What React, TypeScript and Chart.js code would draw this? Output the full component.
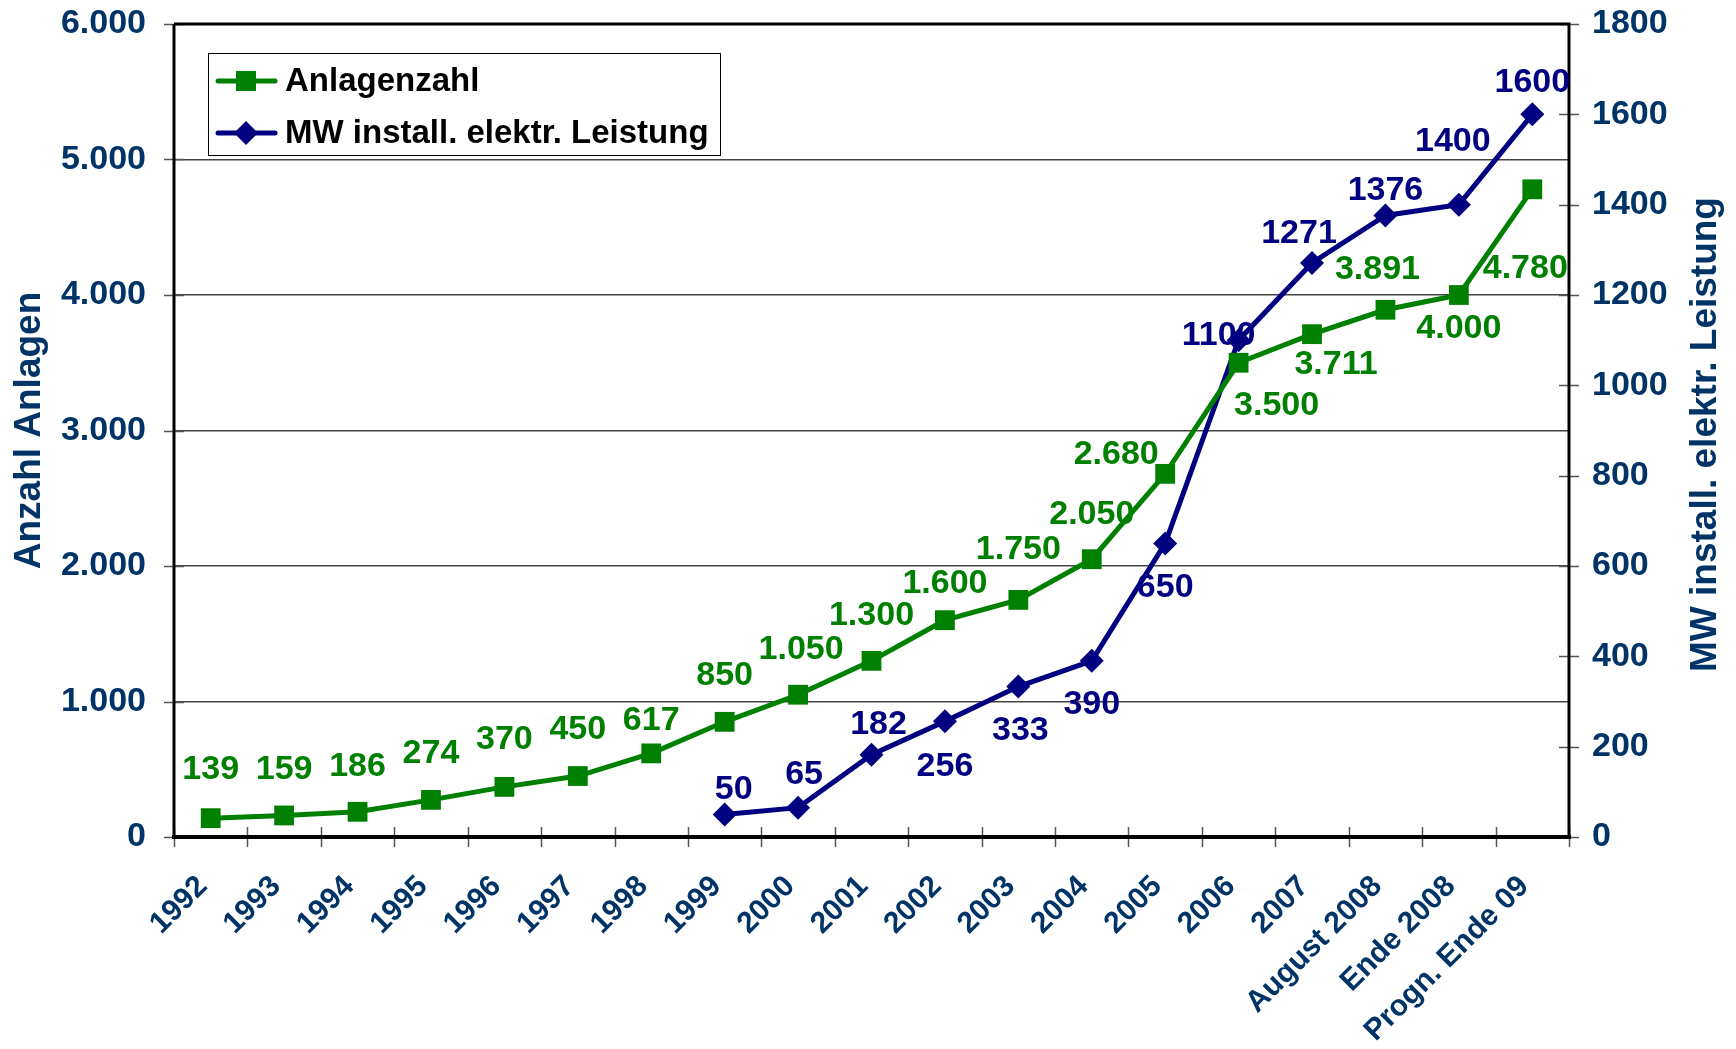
import React, { useEffect, useRef } from 'react';
import { Chart, registerables } from 'chart.js';

Chart.register(...registerables);

const categories = [
  '1992', '1993', '1994', '1995', '1996', '1997', '1998', '1999', '2000', '2001',
  '2002', '2003', '2004', '2005', '2006', '2007', 'August 2008', 'Ende 2008', 'Progn. Ende 09',
];
const anlagenzahl = [139, 159, 186, 274, 370, 450, 617, 850, 1050, 1300, 1600, 1750, 2050, 2680, 3500, 3711, 3891, 4000, 4780];
const mwLeistung = [null, null, null, null, null, null, null, 50, 65, 182, 256, 333, 390, 650, 1100, 1271, 1376, 1400, 1600];

const leftAxisTitle = 'Anzahl Anlagen';
const rightAxisTitle = 'MW install. elektr. Leistung';
const seriesNames = ['Anlagenzahl', 'MW install. elektr. Leistung'];

// label placement offsets (pixels from point centre), styling only
const greenLabelOffsets = [
  [0, -49], [0, -46], [0, -45], [0, -46], [0, -47], [0, -46], [0, -33], [0, -46], [3, -45], [0, -45],
  [0, -37], [0, -50], [0, -45], [-49, -19], [38, 43], [24, 30], [-8, -40], [0, 34], [-7, 79],
];
const blueLabelOffsets = [
  null, null, null, null, null, null, null,
  [9, -25], [6, -33], [7, -30], [0, 45], [2, 44], [0, 44], [0, 44], [-20, -5], [-13, -29], [0, -25], [-6, -63], [0, -32],
];

const FONT = '"Liberation Sans", Arial, Helvetica, sans-serif';
const AXIS_COLOR = '#003366';
const GREEN = '#008000';
const BLUE = '#000080';

const fmtDE = (v: number) => String(v).replace(/\B(?=(\d{3})+(?!\d))/g, '.');

const decorPlugin = {
  id: 'decor',
  afterDatasetsDraw(chart: any) {
    const { ctx, chartArea } = chart;
    const { left, right, top, bottom } = chartArea;
    const y = chart.scales.y;
    const y1 = chart.scales.y1;
    const x = chart.scales.x;
    ctx.save();
    // tick marks
    ctx.strokeStyle = '#555555';
    ctx.lineWidth = 1.5;
    ctx.beginPath();
    y.ticks.forEach((t: any) => {
      const py = Math.round(y.getPixelForValue(t.value)) + 0.5;
      ctx.moveTo(left - 10, py);
      ctx.lineTo(left + 10, py);
    });
    y1.ticks.forEach((t: any) => {
      const py = Math.round(y1.getPixelForValue(t.value)) + 0.5;
      ctx.moveTo(right - 10, py);
      ctx.lineTo(right + 10, py);
    });
    for (let i = 0; i <= categories.length; i++) {
      const px = Math.round(x.getPixelForValue(i - 0.5)) + 0.5;
      ctx.moveTo(px, bottom - 10);
      ctx.lineTo(px, bottom + 10);
    }
    ctx.stroke();
    // plot border
    ctx.strokeStyle = '#000000';
    ctx.lineWidth = 3;
    ctx.beginPath();
    ctx.moveTo(left, top);
    ctx.lineTo(right, top);
    ctx.lineTo(right, bottom);
    ctx.moveTo(left, top);
    ctx.lineTo(left, bottom);
    ctx.stroke();
    ctx.lineWidth = 4;
    ctx.beginPath();
    ctx.moveTo(left - 2, bottom);
    ctx.lineTo(right + 2, bottom);
    ctx.stroke();
    ctx.restore();
  },
  afterDraw(chart: any) {
    const { ctx, chartArea } = chart;
    ctx.save();
    // data labels
    ctx.font = `bold 34px ${FONT}`;
    ctx.textAlign = 'center';
    ctx.textBaseline = 'middle';
    const m0 = chart.getDatasetMeta(0);
    const m1 = chart.getDatasetMeta(1);
    ctx.fillStyle = GREEN;
    anlagenzahl.forEach((v, i) => {
      const p = m0.data[i];
      const o = greenLabelOffsets[i];
      ctx.fillText(fmtDE(v), p.x + o[0], p.y + o[1]);
    });
    ctx.fillStyle = BLUE;
    mwLeistung.forEach((v, i) => {
      if (v == null) return;
      const p = m1.data[i];
      const o = blueLabelOffsets[i] as number[];
      ctx.fillText(String(v), p.x + o[0], p.y + o[1]);
    });
    // axis titles
    ctx.fillStyle = AXIS_COLOR;
    ctx.font = `bold 37px ${FONT}`;
    const cy = (chartArea.top + chartArea.bottom) / 2;
    ctx.save();
    ctx.translate(30, cy);
    ctx.rotate(-Math.PI / 2);
    ctx.fillText(leftAxisTitle, 0, 0);
    ctx.restore();
    ctx.save();
    ctx.translate(1706, cy + 4);
    ctx.rotate(-Math.PI / 2);
    ctx.fillText(rightAxisTitle, 0, 0);
    ctx.restore();
    // legend
    const bx = 208, by = 53, bw = 512, bh = 102;
    ctx.fillStyle = '#ffffff';
    ctx.fillRect(bx, by, bw, bh);
    ctx.strokeStyle = '#000000';
    ctx.lineWidth = 1;
    ctx.strokeRect(bx + 0.5, by + 0.5, bw, bh);
    const rows = [
      { y: 81, color: GREEN, style: 'rect', r: 10, name: seriesNames[0] },
      { y: 133, color: BLUE, style: 'rectRot', r: 12, name: seriesNames[1] },
    ];
    rows.forEach((row) => {
      ctx.strokeStyle = row.color;
      ctx.lineWidth = 5;
      ctx.lineCap = 'round';
      ctx.beginPath();
      ctx.moveTo(218, row.y);
      ctx.lineTo(275, row.y);
      ctx.stroke();
      ctx.fillStyle = row.color;
      ctx.beginPath();
      if (row.style === 'rect') {
        ctx.rect(246 - row.r, row.y - row.r, row.r * 2, row.r * 2);
      } else {
        ctx.moveTo(246, row.y - row.r);
        ctx.lineTo(246 + row.r, row.y);
        ctx.lineTo(246, row.y + row.r);
        ctx.lineTo(246 - row.r, row.y);
        ctx.closePath();
      }
      ctx.fill();
      ctx.fillStyle = '#000000';
      ctx.font = `bold 33px ${FONT}`;
      ctx.textAlign = 'left';
      ctx.textBaseline = 'middle';
      ctx.fillText(row.name, 285, row.y + 1);
    });
    ctx.restore();
  },
};

export default function App() {
  const canvasRef = useRef<HTMLCanvasElement | null>(null);

  useEffect(() => {
    if (!canvasRef.current) return;
    const chart = new Chart(canvasRef.current, {
      type: 'line',
      data: {
        labels: categories,
        datasets: [
          {
            label: seriesNames[0],
            data: anlagenzahl,
            yAxisID: 'y',
            borderColor: GREEN,
            backgroundColor: GREEN,
            pointBackgroundColor: GREEN,
            pointBorderColor: GREEN,
            borderWidth: 5,
            pointStyle: 'rect',
            pointRadius: 14,
            pointBorderWidth: 0,
            tension: 0,
          },
          {
            label: seriesNames[1],
            data: mwLeistung,
            yAxisID: 'y1',
            borderColor: BLUE,
            backgroundColor: BLUE,
            pointBackgroundColor: BLUE,
            pointBorderColor: BLUE,
            borderWidth: 5,
            pointStyle: 'rectRot',
            pointRadius: 12,
            pointBorderWidth: 0,
            tension: 0,
          },
        ],
      },
      options: {
        responsive: false,
        animation: false,
        layout: { padding: { top: 24, left: 0, right: 0, bottom: 0 } },
        plugins: { legend: { display: false }, tooltip: { enabled: false } },
        scales: {
          x: {
            type: 'category',
            offset: true,
            grid: { display: false, offset: true, drawTicks: false },
            border: { display: false },
            ticks: {
              autoSkip: false,
              maxRotation: 45,
              minRotation: 45,
              padding: 32,
              labelOffset: -8,
              color: AXIS_COLOR,
              font: { size: 30, weight: 'bold', family: FONT },
            },
            afterFit: (s: any) => { s.height = 212; s.paddingLeft = 0; s.paddingRight = 0; },
          },
          y: {
            position: 'left',
            min: 0,
            max: 6000,
            ticks: {
              stepSize: 1000,
              padding: 28,
              color: AXIS_COLOR,
              font: { size: 34, weight: 'bold', family: FONT },
              callback: (v: any) => fmtDE(Number(v)),
            },
            grid: { color: '#444444', lineWidth: 1.5, drawTicks: false },
            border: { display: false },
            afterFit: (s: any) => { s.width = 174; s.paddingTop = 0; s.paddingBottom = 0; },
          },
          y1: {
            position: 'right',
            min: 0,
            max: 1800,
            ticks: {
              stepSize: 200,
              padding: 23,
              color: AXIS_COLOR,
              font: { size: 34, weight: 'bold', family: FONT },
              callback: (v: any) => String(v),
            },
            grid: { display: false, drawTicks: false },
            border: { display: false },
            afterFit: (s: any) => { s.width = 167; s.paddingTop = 0; s.paddingBottom = 0; },
          },
        },
      },
      plugins: [decorPlugin],
    } as any);
    return () => chart.destroy();
  }, []);

  return (
    <div style={{ position: 'absolute', left: 0, top: 0, width: 1736, height: 1049, background: '#ffffff' }}>
      <canvas ref={canvasRef} width={1736} height={1049} style={{ display: 'block', width: 1736, height: 1049 }} />
    </div>
  );
}
